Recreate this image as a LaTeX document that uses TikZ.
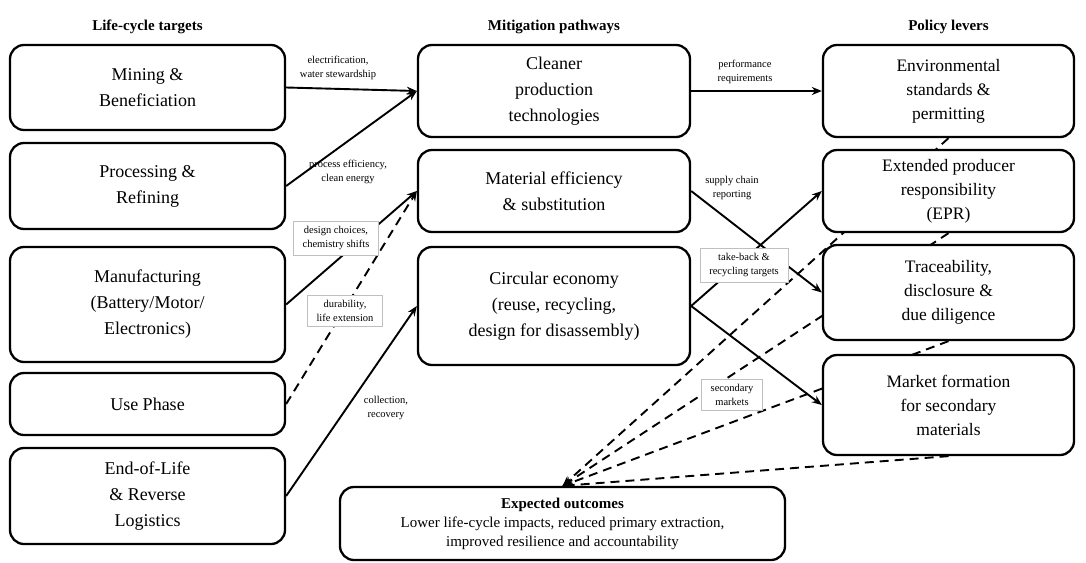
\documentclass[tikz,border=0pt]{standalone}
\usepackage{fontspec}
\setmainfont{Liberation Serif}
\usetikzlibrary{arrows.meta,backgrounds}

\tikzset{
  stage/.style={draw, line width=2.3pt, rounded corners=14pt, fill=white, align=center, inner sep=0pt, font=\fontsize{18}{26}\selectfont},
  target/.style={stage, minimum width=275pt},
  pathway/.style={stage, minimum width=272pt},
  lever/.style={stage, minimum width=251pt, font=\fontsize{17.5}{24}\selectfont},
  heading/.style={font=\fontsize{15}{18}\selectfont\bfseries},
  note/.style={align=center, font=\fontsize{10.5}{14}\selectfont, inner sep=1pt},
  tag/.style={note, draw=black!25, line width=0.5pt, fill=white, inner xsep=9pt, inner ysep=5pt},
  flow/.style={-{Stealth[length=10pt,width=8pt]}, line width=1.9pt},
  soft/.style={flow, dash pattern=on 9pt off 6pt},
}

\begin{document}
\begin{tikzpicture}[x=1pt,y=-1pt]
\useasboundingbox (0,0) rectangle (1086,562);

% column titles
\node[heading] (htargets) at (147.5,27) {Life-cycle targets};
\node[heading] (hpathways) at (554,27) {Mitigation pathways};
\node[heading] (hlevers) at (948.5,27) {Policy levers};

% life-cycle targets
\node[target, minimum height=85pt] (mining) at (147.5,87.5) {Mining \&\\Beneficiation};
\node[target, minimum height=86pt] (refining) at (147.5,186) {Processing \&\\Refining};
\node[target, minimum height=115pt] (manufacturing) at (147.5,304.5) {Manufacturing\\(Battery/Motor/\\Electronics)};
\node[target, minimum height=62pt] (usephase) at (147.5,404) {Use Phase};
\node[target, minimum height=96pt] (endoflife) at (147.5,496) {End-of-Life\\\& Reverse\\Logistics};

% mitigation pathways
\node[pathway, minimum height=92pt] (cleaner) at (554,91) {Cleaner\\production\\technologies};
\node[pathway, minimum height=82pt] (efficiency) at (554,191) {Material efficiency\\\& substitution};
\node[pathway, minimum height=118pt] (circular) at (554,306) {Circular economy\\(reuse, recycling,\\design for disassembly)};

% policy levers
\node[lever, minimum height=92pt] (standards) at (948.5,91) {Environmental\\standards \&\\permitting};
\node[lever, minimum height=82pt] (epr) at (948.5,191) {Extended producer\\responsibility\\(EPR)};
\node[lever, minimum height=95pt] (trace) at (948.5,292.5) {Traceability,\\disclosure \&\\due diligence};
\node[lever, minimum height=100pt] (market) at (948.5,405) {Market formation\\for secondary\\materials};

\node[stage, minimum width=445pt, minimum height=73pt, font=\fontsize{15}{19}\selectfont] (outcomes) at (562.5,523.5)
  {\textbf{Expected outcomes}\\Lower life-cycle impacts, reduced primary extraction,\\improved resilience and accountability};

% levers feed the outcomes (behind the boxes)
\begin{scope}[on background layer]
\draw[soft] (standards.south) -- (outcomes.north);
\draw[soft] (epr.south) -- (outcomes.north);
\draw[soft] (trace.south) -- (outcomes.north);
\draw[soft] (market.south) -- (outcomes.north);
\end{scope}

% targets -> pathways
\draw[flow] (mining.east) -- (cleaner.west);
\draw[flow] (refining.east) -- (cleaner.west);
\draw[flow] (manufacturing.east) -- (efficiency.west);
\draw[soft] (usephase.east) -- (efficiency.west);
\draw[flow] (endoflife.east) -- (circular.west);

% pathways -> levers
\draw[flow] (cleaner.east) -- (standards.west);
\draw[flow] (efficiency.east) -- (trace.west);
\draw[flow] (circular.east) -- (epr.west);
\draw[flow] (circular.east) -- (market.west);

% edge labels
\node[note] (electrify) at (338,68) {electrification,\\water stewardship};
\node[note] (process) at (348,172) {process efficiency,\\clean energy};
\node[tag] (design) at (336,238) {design choices,\\chemistry shifts};
\node[tag] (durable) at (345,311) {durability,\\life extension};
\node[note] (collect) at (386,408) {collection,\\recovery};
\node[note] (perform) at (745,72) {performance\\requirements};
\node[note] (supply) at (732,188) {supply chain\\reporting};
\node[tag] (takeback) at (744,265) {take-back \&\\recycling targets};
\node[tag] (secondary) at (732,395) {secondary\\markets};
\end{tikzpicture}
\end{document}
